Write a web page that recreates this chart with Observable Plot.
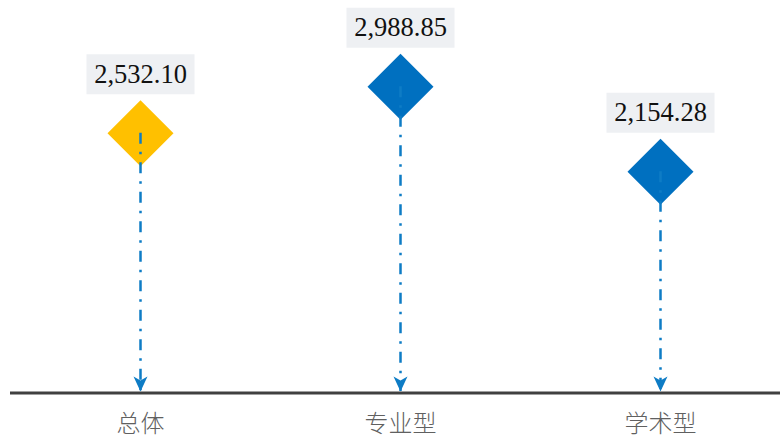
<!DOCTYPE html>
<html>
<head>
<meta charset="utf-8">
<script src="https://cdn.jsdelivr.net/npm/d3@7"></script>
<script src="https://cdn.jsdelivr.net/npm/@observablehq/plot@0.6"></script>
<style>
  html, body { margin: 0; padding: 0; background: #fff; }
  #chart svg { display: block; }
  .val text { font-family: "Liberation Serif", "Times New Roman", Times, serif !important; }
  .cat text { font-family: "Noto Sans CJK SC", sans-serif !important; }
</style>
</head>
<body>
<div id="chart"></div>
<script>
const categories = ["总体", "专业型", "学术型"];
const values = [2532.10, 2988.85, 2154.28];
const highlighted = ["总体"];

const data = categories.map((c, i) => ({cat: c, value: values[i]}));
const fmt = d3.format(",.2f");

const boxSymbol = {
  draw(context) {
    const w = 54, h = 20;
    context.moveTo(-w, -h);
    context.lineTo(w, -h);
    context.lineTo(w, h);
    context.lineTo(-w, h);
    context.closePath();
  }
};
const diamondSymbol = {
  draw(context) {
    const r = 33;
    context.moveTo(0, -r);
    context.lineTo(r, 0);
    context.lineTo(0, r);
    context.lineTo(-r, 0);
    context.closePath();
  }
};
const arrowSymbol = {
  draw(context) {
    context.moveTo(0, 0);
    context.lineTo(-7, -15);
    context.lineTo(0, -11);
    context.lineTo(7, -15);
    context.closePath();
  }
};

const chart = Plot.plot({
  width: 780,
  height: 439,
  marginLeft: 10,
  marginRight: 0,
  marginTop: 0,
  marginBottom: 0,
  x: {type: "point", domain: categories, range: [140, 660], padding: 0, axis: null},
  y: {domain: [0, 3000], range: [391, 85], axis: null},
  marks: [
    Plot.ruleY([0], {stroke: "#404040", strokeWidth: 3, dy: 1.5}),
    Plot.dot(data, {
      x: "cat", y: "value", symbol: diamondSymbol, r: 1,
      fill: d => highlighted.includes(d.cat) ? "#FFC000" : "#0070C0",
      stroke: "none"
    }),
    Plot.ruleX(data, {
      x: "cat", y1: "value", y2: 0,
      stroke: "#0E7CC5", strokeWidth: 2.5,
      strokeDasharray: "11,8,2.5,8"
    }),
    Plot.dot(data, {
      x: "cat", y: () => 0, symbol: arrowSymbol, r: 1,
      fill: "#0E7CC5", stroke: "none"
    }),
    Plot.dot(data, {
      x: "cat", y: "value", dy: -59, symbol: boxSymbol, r: 1,
      fill: "#EEF0F3", stroke: "none"
    }),
    Plot.text(data, {
      x: "cat", y: "value", dy: -59, text: d => fmt(d.value),
      className: "val",
      fontFamily: "Liberation Serif", fontSize: 26.5, fill: "#111"
    }),
    Plot.text(data, {
      x: "cat", y: () => 0, dy: 33, text: "cat",
      className: "cat",
      fontFamily: "Noto Sans CJK SC", fontSize: 24, fontWeight: 300, fill: "#606060"
    })
  ]
});
document.getElementById("chart").appendChild(chart);
</script>
</body>
</html>
